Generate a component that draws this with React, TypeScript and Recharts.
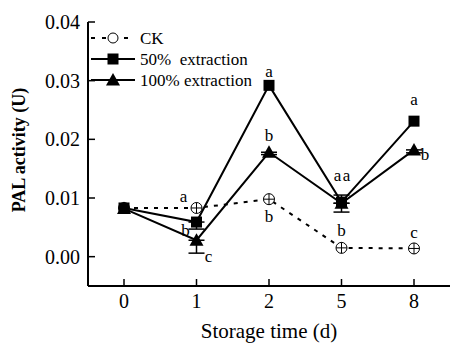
import React from "react";
import { LineChart, Line, XAxis, YAxis, ErrorBar, LabelList, Label, Legend } from "recharts";

const days = ["0", "1", "2", "5", "8"];
const ck = [0.0083, 0.0083, 0.0098, 0.0015, 0.0014];
const ext50 = [0.0083, 0.0059, 0.0292, 0.0093, 0.0231];
const ext100 = [0.0082, 0.0028, 0.0178, 0.0091, 0.0182];

// [lower, upper] error, null where no bar is visible
const ext50Err = [null, [0.0012, 0], null, [0.0002, 0.0012], null];
const ext100Err = [null, [0.0022, 0], [0.0004, 0], [0.0015, 0], [0.0005, 0]];

const ckLetters = ["", "a", "b", "b", "c"];
const ext50Letters = ["", "b", "a", "a", "a"];
const ext100Letters = ["", "c", "b", "a", "b"];

const yTicks = [0, 0.01, 0.02, 0.03, 0.04];

const data = days.map((d, i) => ({
  day: d,
  ck: ck[i],
  ext50: ext50[i],
  ext100: ext100[i],
  ext50Err: ext50Err[i],
  ext100Err: ext100Err[i],
  ckL: ckLetters[i],
  ext50L: ext50Letters[i],
  ext100L: ext100Letters[i],
}));

// letter offsets from the marker (dx, dy)
const ckPos = [[0, 0], [-13, -11], [0, 17], [0, -17], [0, -16]];
const ext50Pos = [[0, 0], [-11, 8], [0, -14], [-4, -27], [0, -22]];
const ext100Pos = [[0, 0], [12, 16], [0, -17], [5, -28], [11, 5]];

const FONT = "'Liberation Serif', 'Times New Roman', serif";

const letter = (pos: number[][]) => (p: any) => {
  if (!p.value) return null;
  const [dx, dy] = pos[p.index] || [0, 0];
  return (
    <text
      x={p.x + dx}
      y={p.y + dy}
      textAnchor="middle"
      dominantBaseline="central"
      fontFamily={FONT}
      fontSize={17}
      fill="#000"
    >
      {p.value}
    </text>
  );
};

const Square = ({ cx, cy }: any) => <rect x={cx - 5.5} y={cy - 5.5} width={11} height={11} fill="#000" />;
const Tri = ({ cx, cy }: any) => (
  <polygon points={`${cx},${cy - 7} ${cx - 7},${cy + 5.5} ${cx + 7},${cy + 5.5}`} fill="#000" />
);
const Circ = ({ cx, cy }: any) => (
  <g>
    <circle cx={cx} cy={cy} r={5.5} fill="#fff" stroke="#000" strokeWidth={1} />
    <line x1={cx - 5.5} x2={cx + 5.5} y1={cy} y2={cy} stroke="#000" strokeWidth={1} />
    <line x1={cx} x2={cx} y1={cy - 5.5} y2={cy + 5.5} stroke="#000" strokeWidth={1} />
  </g>
);

function LegendBox() {
  const rows = [
    { label: "CK", y: 10, dash: "4 7", m: <circle cx={22} cy={10} r={5} fill="#fff" stroke="#000" strokeWidth={1} /> },
    { label: "50%  extraction", y: 31, dash: undefined, m: <Square cx={22} cy={31} /> },
    { label: "100% extraction", y: 52, dash: undefined, m: <Tri cx={22} cy={52} /> },
  ];
  return (
    <svg width={180} height={64}>
      {rows.map((r) => (
        <g key={r.label}>
          <line x1={0} x2={44} y1={r.y} y2={r.y} stroke="#000" strokeWidth={2} strokeDasharray={r.dash} />
          {r.m}
          <text
            x={49}
            y={r.y}
            dominantBaseline="central"
            fontFamily={FONT}
            fontSize={17}
            fill="#000"
            style={{ whiteSpace: "pre" }}
          >
            {r.label}
          </text>
        </g>
      ))}
    </svg>
  );
}

export default function App() {
  return (
    <div style={{ position: "absolute", left: 0, top: 0, background: "#fff" }}>
      <LineChart width={463} height={347} data={data} margin={{ top: 22, right: 13, bottom: 0, left: 0 }}>
        <XAxis
          dataKey="day"
          height={61}
          padding={{ left: 36, right: 36 }}
          axisLine={{ stroke: "#000", strokeWidth: 2 }}
          tickLine={{ stroke: "#000", strokeWidth: 1.5 }}
          tickSize={-7}
          tickMargin={15}
          tick={{ fill: "#000", fontFamily: FONT, fontSize: 20 }}
        >
          <Label
            value="Storage time (d)"
            position="insideBottom"
            offset={9}
            fill="#000"
            fontFamily={FONT}
            fontSize={21}
          />
        </XAxis>
        <XAxis xAxisId="top" dataKey="day" orientation="top" height={0} tick={false} tickLine={false} axisLine={{ stroke: "#000", strokeWidth: 2 }} />
        <YAxis
          width={88}
          domain={[-0.005, 0.04]}
          ticks={yTicks}
          tickFormatter={(v: number) => v.toFixed(2)}
          axisLine={{ stroke: "#000", strokeWidth: 2 }}
          tickLine={{ stroke: "#000", strokeWidth: 1.5 }}
          tickSize={-7}
          tickMargin={15}
          tick={{ fill: "#000", fontFamily: FONT, fontSize: 20 }}
        >
          <Label
            value="PAL activity (U)"
            position="center"
            angle={-90}
            dx={-25}
            dy={-4}
            fill="#000"
            fontFamily={FONT}
            fontSize={18}
            fontWeight="bold"
          />
        </YAxis>
        <YAxis yAxisId="right" orientation="right" width={0} tick={false} tickLine={false} axisLine={{ stroke: "#000", strokeWidth: 2 }} />
        <Legend
          layout="vertical"
          align="center"
          verticalAlign="middle"
          content={() => <LegendBox />}
          wrapperStyle={{ left: 91, top: 28, width: 180, height: 64 }}
        />
        <Line
          dataKey="ck"
          stroke="#000"
          strokeWidth={2}
          strokeDasharray="4 6"
          dot={(p: any) => <Circ key={p.index} cx={p.cx} cy={p.cy} />}
          isAnimationActive={false}
        >
          <LabelList dataKey="ckL" content={letter(ckPos)} />
        </Line>
        <Line
          dataKey="ext50"
          stroke="#000"
          strokeWidth={2}
          dot={(p: any) => <Square key={p.index} cx={p.cx} cy={p.cy} />}
          isAnimationActive={false}
        >
          <ErrorBar dataKey="ext50Err" direction="y" width={8} stroke="#000" strokeWidth={1.5} />
          <LabelList dataKey="ext50L" content={letter(ext50Pos)} />
        </Line>
        <Line
          dataKey="ext100"
          stroke="#000"
          strokeWidth={2}
          dot={(p: any) => <Tri key={p.index} cx={p.cx} cy={p.cy} />}
          isAnimationActive={false}
        >
          <ErrorBar dataKey="ext100Err" direction="y" width={8} stroke="#000" strokeWidth={1.5} />
          <LabelList dataKey="ext100L" content={letter(ext100Pos)} />
        </Line>
      </LineChart>
    </div>
  );
}
